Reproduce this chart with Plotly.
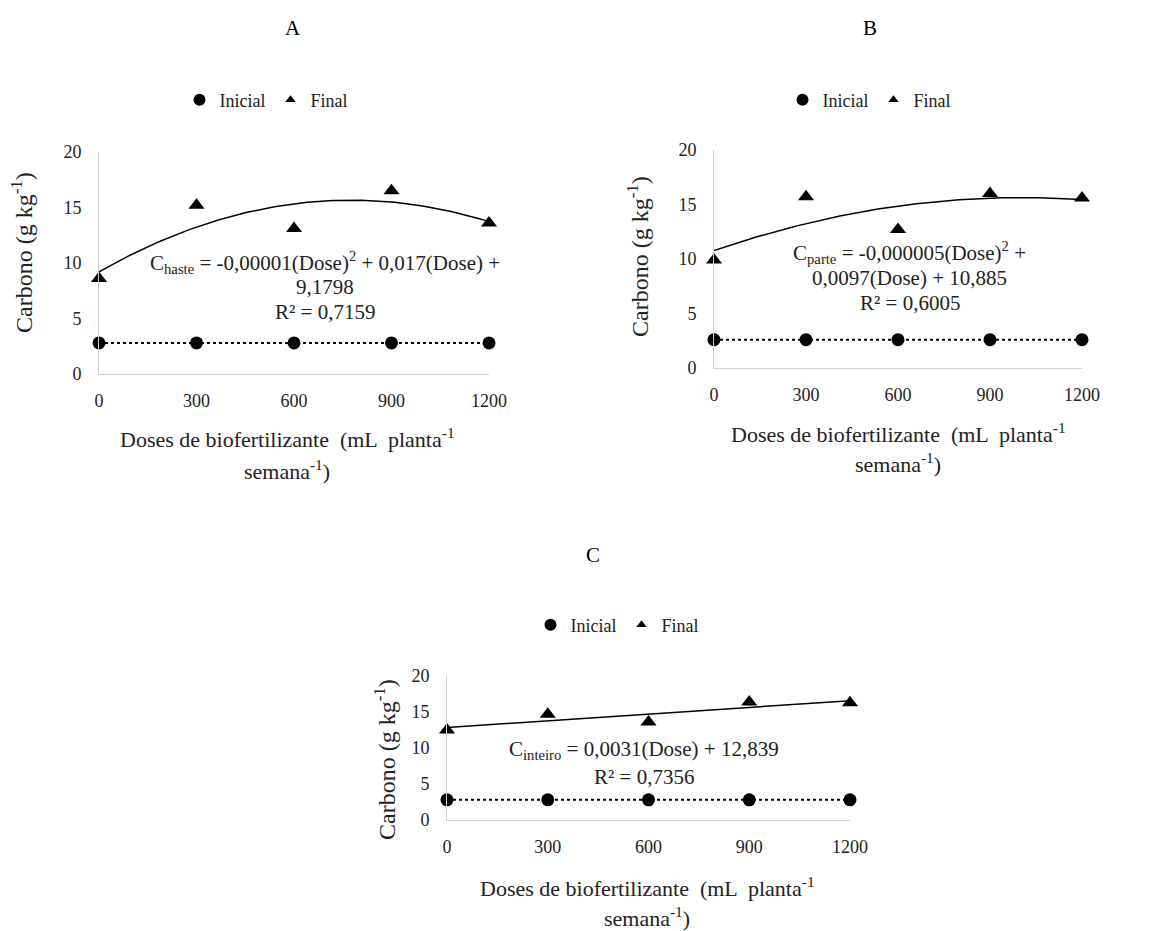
import numpy as np
import plotly.graph_objects as go

doses = [0, 300, 600, 900, 1200]
x_ticks = [0, 300, 600, 900, 1200]
y_ticks = [0, 5, 10, 15, 20]

# Panel A (haste)
a_inicial = [2.8, 2.8, 2.8, 2.8, 2.8]
a_final = [8.6, 15.2, 13.1, 16.5, 13.6]
# Panel B (parte)
b_inicial = [2.6, 2.6, 2.6, 2.6, 2.6]
b_final = [9.9, 15.7, 12.7, 16.0, 15.6]
# Panel C (inteiro)
c_inicial = [2.8, 2.8, 2.8, 2.8, 2.8]
c_final = [12.5, 14.7, 13.6, 16.4, 16.3]

panel_titles = ["A", "B", "C"]
eq_a = ["C<sub>haste</sub> = -0,00001(Dose)<sup>2</sup> + 0,017(Dose) +", "9,1798", "R² = 0,7159"]
eq_b = ["C<sub>parte</sub> = -0,000005(Dose)<sup>2</sup> +", "0,0097(Dose) + 10,885", "R² = 0,6005"]
eq_c = ["C<sub>inteiro</sub> = 0,0031(Dose) + 12,839", "R² = 0,7356"]
fit_degree = [2, 2, 1]

W, H = 1157, 931
OFF = 8  # page body margin
FONT = "Liberation Serif, Times New Roman, serif"
TXT = "#222"

def px(x):
    return (x - OFF) / W

def py(y):
    return 1 - (y - OFF) / H

fig = go.Figure()

panels = [
    dict(name="", xl=99, xr=489, y0=374, y20=152, data=(a_inicial, a_final), eq=eq_a, eqx=325, eqy=[262, 287, 312],
         title=(293, 28), legend=(266, 100), ytitle=(22, 253), xt=(287, 438, 470), deg=fit_degree[0]),
    dict(name="2", xl=714, xr=1082, y0=368, y20=150, data=(b_inicial, b_final), eq=eq_b, eqx=910, eqy=[252, 278, 303],
         title=(870, 28), legend=(869, 100), ytitle=(638, 257), xt=(898, 433, 463), deg=fit_degree[1]),
    dict(name="3", xl=447, xr=850, y0=820, y20=676, data=(c_inicial, c_final), eq=eq_c, eqx=644, eqy=[750, 777],
         title=(593, 555), legend=(617, 625), ytitle=(385, 760), xt=(647, 887, 917), deg=fit_degree[2]),
]

annotations = []
for i, p in enumerate(panels):
    xa = "x" + p["name"]
    ya = "y" + p["name"]
    lg = "legend" + p["name"]
    ini, fin = p["data"]
    fig.add_trace(go.Scatter(x=doses, y=ini, mode="lines", line=dict(color="black", dash="dot", width=2),
                             showlegend=False, xaxis=xa, yaxis=ya, hoverinfo="skip"))
    coef = np.polyfit(doses, fin, p["deg"])
    xs = np.linspace(0, 1200, 121)
    fig.add_trace(go.Scatter(x=xs, y=np.polyval(coef, xs), mode="lines", line=dict(color="black", width=1.5),
                             showlegend=False, xaxis=xa, yaxis=ya, hoverinfo="skip"))
    fig.add_trace(go.Scatter(x=doses, y=ini, mode="markers", name="Inicial", showlegend=False,
                             marker=dict(symbol="circle", size=13, color="black"),
                             xaxis=xa, yaxis=ya, cliponaxis=False))
    fig.add_trace(go.Scatter(x=doses, y=fin, mode="markers", name="Final", showlegend=False,
                             marker=dict(symbol="triangle-up", size=14, color="black"),
                             xaxis=xa, yaxis=ya, cliponaxis=False))
    # legend entries
    fig.add_trace(go.Scatter(x=[None], y=[None], mode="markers", name="Inicial",
                             marker=dict(symbol="circle", size=12, color="black"),
                             xaxis=xa, yaxis=ya, legend=lg))
    fig.add_trace(go.Scatter(x=[None], y=[None], mode="markers", name="Final",
                             marker=dict(symbol="triangle-up", size=9, color="black"),
                             xaxis=xa, yaxis=ya, legend=lg))

    axis_common = dict(showgrid=False, zeroline=False, showline=True, linecolor="#d0d0d0", linewidth=1,
                       ticks="", automargin=False, tickfont=dict(family=FONT, size=18, color=TXT))
    fig.update_layout(**{
        ("xaxis" + p["name"]): dict(axis_common, domain=[px(p["xl"]), px(p["xr"])], range=[0, 1200],
                                    tickvals=x_ticks, anchor=ya, ticklabelstandoff=10),
        ("yaxis" + p["name"]): dict(axis_common, domain=[py(p["y0"]), py(p["y20"])], range=[0, 20],
                                    tickvals=y_ticks, anchor=xa, ticklabelstandoff=13),
        lg: dict(orientation="h", x=px(p["legend"][0]), y=py(p["legend"][1]), xanchor="center", yanchor="middle",
                 font=dict(family=FONT, size=18, color=TXT), bgcolor="rgba(0,0,0,0)",
                 itemwidth=30, tracegroupgap=0, itemsizing="trace"),
    })

    def ann(text, x, y, size, angle=0):
        annotations.append(dict(text=text, x=px(x), y=py(y), xref="paper", yref="paper", showarrow=False,
                                xanchor="center", yanchor="middle", textangle=angle,
                                font=dict(family=FONT, size=size, color=TXT if text not in panel_titles else "black")))

    ann(panel_titles[i], p["title"][0], p["title"][1], 21)
    for line, yy in zip(p["eq"], p["eqy"]):
        ann(line, p["eqx"], yy, 21)
    ann("Carbono (g kg<sup>-1</sup>)", p["ytitle"][0], p["ytitle"][1], 24, -90)
    ann("Doses de biofertilizante  (mL  planta<sup>-1</sup>", p["xt"][0], p["xt"][1], 22)
    ann("semana<sup>-1</sup>)", p["xt"][0], p["xt"][2], 22)

fig.update_layout(width=W, height=H, margin=dict(l=0, r=0, t=0, b=0, autoexpand=False),
                  paper_bgcolor="white", plot_bgcolor="white",
                  annotations=annotations, font=dict(family=FONT))
fig.write_html("out.html")
